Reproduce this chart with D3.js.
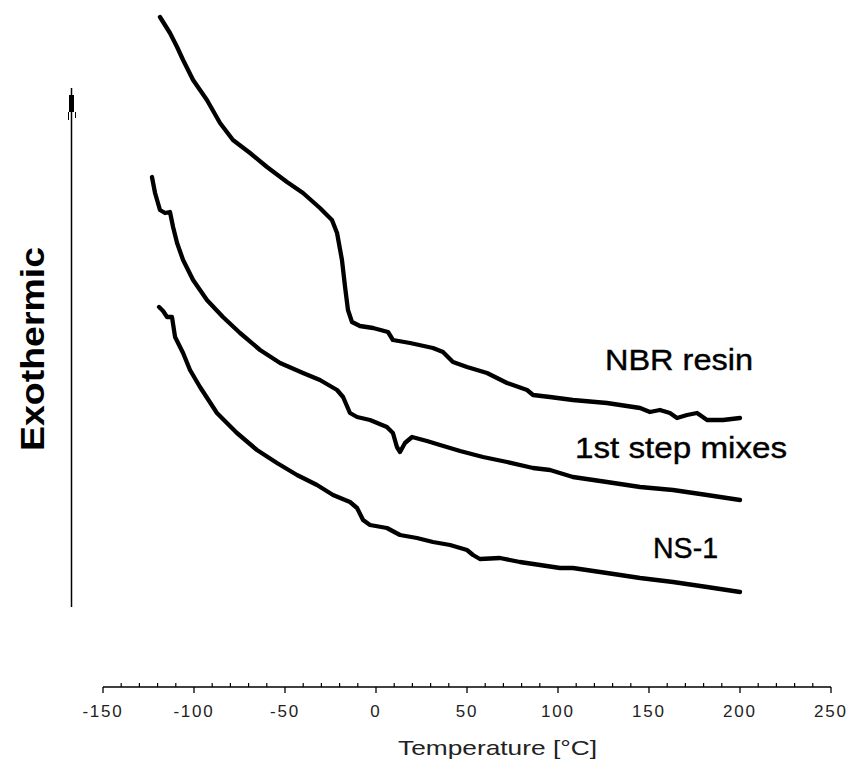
<!DOCTYPE html>
<html>
<head>
<meta charset="utf-8">
<script src="https://cdn.jsdelivr.net/npm/d3@7"></script>
<style>
	body { margin: 0; background: #fff; }
	text { font-family: "Liberation Sans", Arial, sans-serif; }
</style>
</head>
<body>
<div id="main"></div>
<script>
// DSC traces, temperature in degC, heat flow in arbitrary units (exo up)
const nbrTemp = [-118.7, -113.2, -109.3, -106, -100.5, -92.9, -85.7, -78.6, -69.2, -59.9, -48.9, -40.1, -30.8, -24.2, -21.4, -18.7, -17, -15.4, -13.2, -8.8, -1.6, 6.6, 9.3, 18.7, 31.3, 36.8, 42.3, 50, 61, 72, 83, 86.3, 95.6, 108.2, 126.9, 145.1, 150.5, 156, 161.5, 165.4, 170.9, 176.4, 181.9, 190.7, 200];
const nbrFlow = [67, 65.4, 64, 62.7, 60.7, 58.7, 56.4, 54.7, 53.4, 52, 50.5, 49.4, 47.9, 46.7, 45.4, 42.7, 40, 37.7, 36.5, 36.1, 35.9, 35.5, 34.7, 34.4, 33.9, 33.5, 32.5, 32, 31.4, 30.4, 29.7, 29.2, 29, 28.7, 28.4, 27.9, 27.5, 27.7, 27.4, 26.9, 27.2, 27.4, 26.7, 26.7, 26.9];

const mixTemp = [-123.1, -121.4, -118.7, -115.9, -113.2, -111.5, -109.3, -106, -100.5, -92.9, -84.1, -74.7, -63.7, -52.7, -40.1, -30.8, -21.4, -18.1, -14.3, -10.4, -3.3, 6, 9.3, 11.5, 13.2, 15.9, 19.8, 28, 35.2, 46.2, 58.8, 72, 86.3, 95.6, 108.2, 126.9, 145.1, 163.2, 181.9, 200];
const mixFlow = [51, 49.4, 47.7, 47.4, 47.5, 46, 44.4, 42.7, 40.7, 38.7, 37, 35.4, 33.7, 32.4, 31.4, 30.7, 29.7, 29, 27.4, 27, 26.7, 26, 25.4, 24, 23.5, 24.4, 25, 24.6, 24.2, 23.6, 23, 22.5, 21.9, 21.7, 21, 20.5, 20, 19.7, 19.2, 18.7];

const nsTemp = [-119.2, -117, -114.8, -112.1, -110.4, -106, -102.2, -96.7, -87.4, -76.4, -65.4, -54.4, -43.4, -32.4, -23.6, -14.3, -10.4, -7.1, -3.3, 6, 13.2, 22.5, 31.3, 40.7, 50, 53.3, 57.1, 68.1, 79.1, 90.1, 101.1, 108.2, 126.9, 145.1, 163.2, 181.9, 200];
const nsFlow = [38, 37.6, 37, 37, 35, 33.4, 31.7, 30, 27.4, 25.4, 23.7, 22.4, 21.2, 20.2, 19.2, 18.5, 17.9, 16.7, 16.2, 15.9, 15.2, 14.9, 14.5, 14.2, 13.7, 13.2, 12.8, 12.9, 12.5, 12.2, 11.9, 11.9, 11.4, 10.9, 10.5, 10, 9.5];

const seriesNames = ["NBR resin", "1st step mixes", "NS-1"];
const xTicks = [-150, -100, -50, 0, 50, 100, 150, 200, 250];

const width = 851,
	height = 768;

const svg = d3
	.select("#main")
	.append("svg")
	.attr("width", width)
	.attr("height", height);

const x = d3.scaleLinear().domain([-150, 250]).range([103, 831]);
const y = d3.scaleLinear().domain([0, 68]).range([687, 7]);

const zip = (ts, vs) => ts.map((t, i) => ({ t: t, v: vs[i] }));
const traces = [zip(nbrTemp, nbrFlow), zip(mixTemp, mixFlow), zip(nsTemp, nsFlow)];

const line = d3
	.line()
	.x((d) => x(d.t))
	.y((d) => y(d.v));

svg.selectAll("path.trace")
	.data(traces)
	.enter()
	.append("path")
	.classed("trace", true)
	.attr("d", line)
	.style("fill", "none")
	.style("stroke", "#000")
	.style("stroke-width", 4.3)
	.style("stroke-linejoin", "round")
	.style("stroke-linecap", "round");

// x axis: major ticks down, minor ticks up
const axisY = 687;
const xAxis = svg.append("g").classed("axis", true);
xAxis.append("line")
	.attr("x1", x(-150)).attr("x2", x(250))
	.attr("y1", axisY).attr("y2", axisY)
	.style("stroke", "#000").style("stroke-width", 1.3);
xAxis.selectAll("line.minor")
	.data(d3.range(-140, 250, 10).filter((d) => d % 50 !== 0))
	.enter()
	.append("line")
	.classed("minor", true)
	.attr("x1", (d) => x(d)).attr("x2", (d) => x(d))
	.attr("y1", axisY).attr("y2", axisY - 4)
	.style("stroke", "#000").style("stroke-width", 1.2);
xAxis.selectAll("line.major")
	.data(xTicks)
	.enter()
	.append("line")
	.classed("major", true)
	.attr("x1", (d) => x(d)).attr("x2", (d) => x(d))
	.attr("y1", axisY).attr("y2", axisY + 6)
	.style("stroke", "#000").style("stroke-width", 1.3);
xAxis.selectAll("text")
	.data(xTicks)
	.enter()
	.append("text")
	.attr("x", (d) => x(d))
	.attr("y", 717)
	.attr("text-anchor", "middle")
	.style("font-size", "17px")
	.style("letter-spacing", "1.8px")
	.style("fill", "#222")
	.text((d) => d);

svg.append("text")
	.attr("x", 398)
	.attr("y", 755)
	.attr("textLength", 199)
	.attr("lengthAdjust", "spacingAndGlyphs")
	.style("font-size", "21px")
	.style("fill", "#222")
	.text("Temperature [°C]");

// y axis (no scale)
svg.append("line")
	.attr("x1", 71.5).attr("x2", 71.5)
	.attr("y1", 88).attr("y2", 607)
	.style("stroke", "#000").style("stroke-width", 1.5);
svg.append("rect")
	.attr("x", 69).attr("y", 95)
	.attr("width", 5).attr("height", 17)
	.style("fill", "#000");
svg.append("line")
	.attr("x1", 68.5).attr("x2", 68.5)
	.attr("y1", 112).attr("y2", 120)
	.style("stroke", "#000").style("stroke-width", 1);
svg.append("line")
	.attr("x1", 75.5).attr("x2", 75.5)
	.attr("y1", 112).attr("y2", 118)
	.style("stroke", "#000").style("stroke-width", 1);

svg.append("text")
	.attr("transform", "translate(44,349) rotate(-90)")
	.attr("text-anchor", "middle")
	.attr("textLength", 204)
	.attr("lengthAdjust", "spacingAndGlyphs")
	.style("font-size", "33px")
	.style("font-weight", 700)
	.text("Exothermic");

// series labels
const labelPos = [
	{ x: 605, y: 370, w: 148 },
	{ x: 575, y: 458, w: 212 },
	{ x: 653, y: 558, w: 65 },
];
svg.selectAll("text.series")
	.data(seriesNames)
	.enter()
	.append("text")
	.classed("series", true)
	.attr("x", (d, i) => labelPos[i].x)
	.attr("y", (d, i) => labelPos[i].y)
	.attr("textLength", (d, i) => labelPos[i].w)
	.attr("lengthAdjust", "spacingAndGlyphs")
	.style("font-size", "29px")
	.style("fill", "#000")
	.style("stroke", "#000")
	.style("stroke-width", 0.4)
	.text((d) => d);
</script>
</body>
</html>
